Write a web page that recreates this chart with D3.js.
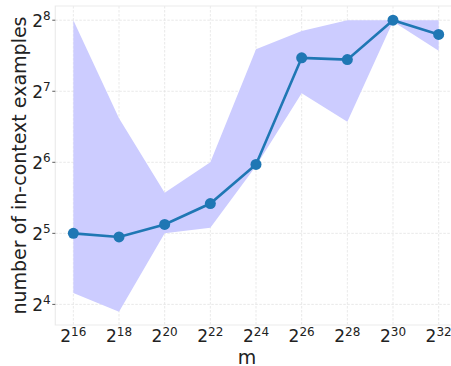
<!DOCTYPE html>
<html><head><meta charset="utf-8">
<script src="https://cdn.jsdelivr.net/npm/d3@7"></script>
<style>body{margin:0;background:#fff}svg{display:block}</style>
</head><body>
<svg id="c" width="451" height="366"></svg>
<script>
const mExp = [16, 18, 20, 22, 24, 26, 28, 30, 32];
const meanVals = [32, 30.9, 34.9, 42.8, 62.7, 177.3, 174.3, 256, 222.9];
const upperVals = [256, 98.3, 47.5, 64, 192.7, 230.7, 256, 256, 256];
const lowerVals = [17.9, 14.9, 32, 33.8, 61.8, 125.4, 95.0, 252.5, 190.0];
const yTickExp = [4, 5, 6, 7, 8];
const xTickExp = [16, 18, 20, 22, 24, 26, 28, 30, 32];

const data = mExp.map((e, i) => ({m: Math.pow(2, e), mean: meanVals[i], lo: lowerVals[i], hi: upperVals[i]}));

const svg = d3.select('#c');
const L = 55.3, R = 456.7, T = 6, B = 325;
const x = d3.scaleLog().base(2).domain([Math.pow(2, 15.21), Math.pow(2, 32.79)]).range([L, R]);
const y = d3.scaleLog().base(2).domain([Math.pow(2, 3.71), Math.pow(2, 8.2)]).range([B, T]);

const font = "'DejaVu Sans', sans-serif";

// grid
const g = svg.append('g');
g.selectAll('.vg').data(xTickExp).enter().append('line')
  .attr('x1', d => x(Math.pow(2, d))).attr('x2', d => x(Math.pow(2, d)))
  .attr('y1', T).attr('y2', B)
  .attr('stroke', '#e3e3e3').attr('stroke-width', 0.8).attr('stroke-dasharray', '2.5,1.5');
g.selectAll('.hg').data(yTickExp).enter().append('line')
  .attr('x1', L).attr('x2', R)
  .attr('y1', d => y(Math.pow(2, d))).attr('y2', d => y(Math.pow(2, d)))
  .attr('stroke', '#e3e3e3').attr('stroke-width', 0.8).attr('stroke-dasharray', '2.5,1.5');

// frame
svg.append('path')
  .attr('d', `M${R},${T}H${L}V${B}H${R}`)
  .attr('fill', 'none').attr('stroke', '#ebebeb').attr('stroke-width', 1.2);

// band
const area = d3.area().x(d => x(d.m)).y0(d => y(d.lo)).y1(d => y(d.hi));
svg.append('path').datum(data).attr('d', area).attr('fill', '#ccccff');

// line
const line = d3.line().x(d => x(d.m)).y(d => y(d.mean));
svg.append('path').datum(data).attr('d', line)
  .attr('fill', 'none').attr('stroke', '#1f77b4').attr('stroke-width', 2.6);
svg.selectAll('.pt').data(data).enter().append('circle')
  .attr('cx', d => x(d.m)).attr('cy', d => y(d.mean)).attr('r', 5.5)
  .attr('fill', '#1f77b4');

// y ticks
const yt = svg.append('g');
yTickExp.forEach(e => {
  const yy = y(Math.pow(2, e));
  yt.append('line').attr('x1', L - 3).attr('x2', L).attr('y1', yy).attr('y2', yy)
    .attr('stroke', '#333').attr('stroke-width', 0.8);
  const t = yt.append('text').attr('x', L - 4.6).attr('y', yy + 6.6)
    .attr('text-anchor', 'end').attr('font-family', font).attr('font-size', 17).attr('fill', '#222');
  t.append('tspan').text('2');
  t.append('tspan').attr('dy', -6.5).attr('font-size', 12).text(String(e));
});

// x ticks
const xt = svg.append('g');
xTickExp.forEach(e => {
  const xx = x(Math.pow(2, e));
  const t = xt.append('text').attr('x', xx).attr('y', 342)
    .attr('text-anchor', 'middle').attr('font-family', font).attr('font-size', 17).attr('fill', '#222');
  t.append('tspan').text('2');
  t.append('tspan').attr('dy', -6.5).attr('font-size', 12).text(String(e));
});

// axis labels
svg.append('text').attr('x', (L + 438.7) / 2).attr('y', 363.5)
  .attr('text-anchor', 'middle').attr('font-family', font).attr('font-size', 19).attr('fill', '#222').text('m');
svg.append('text').attr('transform', `translate(26,165.5) rotate(-90)`)
  .attr('text-anchor', 'middle').attr('font-family', font).attr('font-size', 19).attr('fill', '#222')
  .text('number of in-context examples');
</script>
</body></html>
